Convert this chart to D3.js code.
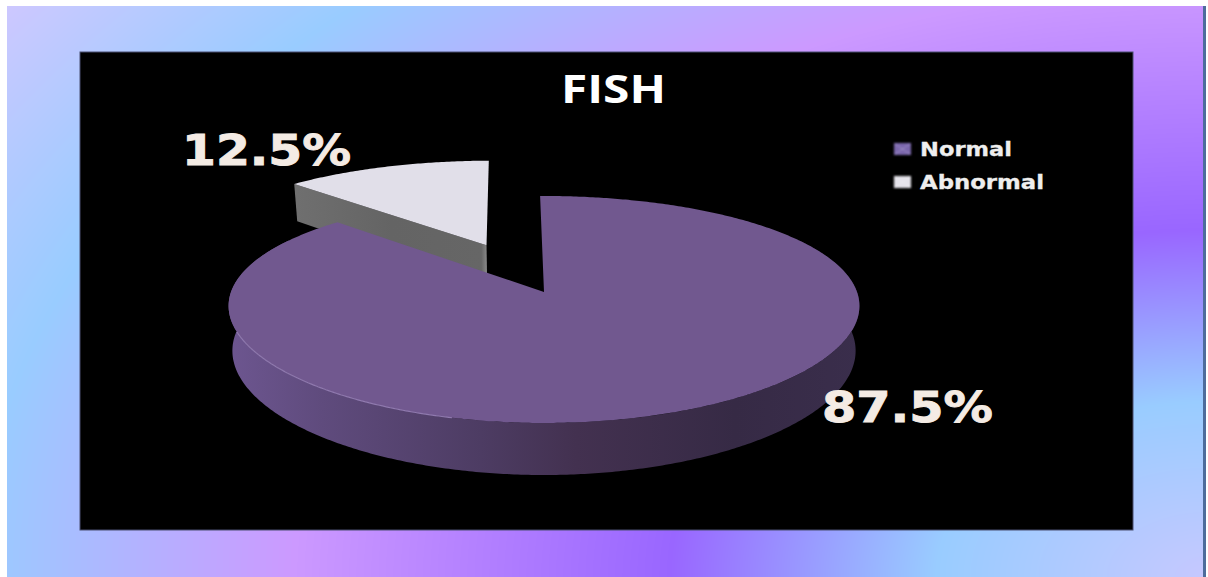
<!DOCTYPE html>
<html>
<head>
<meta charset="utf-8">
<script src="https://cdn.jsdelivr.net/npm/d3@7/dist/d3.min.js"></script>
<style>
  html, body { margin: 0; padding: 0; background: #fff; width: 1208px; height: 577px; overflow: hidden; }
  #bg, #chart { position: absolute; left: 0; top: 0; }
</style>
</head>
<body>
<canvas id="bg" width="1208" height="577"></canvas>
<svg id="chart" width="1208" height="577"></svg>
<script>
// FISH result shares
const categories = ["Normal", "Abnormal"];
const shares = [87.5, 12.5];
const chartTitle = "FISH";

// Slide backdrop: radial colour stops, distance measured from the lower right corner
const backdropStops = [0, 272, 538, 915, 1230, 1492];
const backdropColours = ["#c6c8ff", "#99ccff", "#9966ff", "#cc99ff", "#99ccff", "#cdc8ff"];

const W = 1208, H = 577;
const panel = { x: 7, y: 6, w: 1197, h: 571 };
const plot = { x: 80, y: 52, w: 1053, h: 478 };

// Paint the backdrop
const backdropScale = d3.scaleLinear().domain(backdropStops).range(backdropColours)
  .interpolate(d3.interpolateRgb).clamp(true);
const ctx = document.getElementById("bg").getContext("2d");
for (let py = panel.y; py < panel.y + panel.h; py += 1) {
  for (let px = panel.x; px < panel.x + panel.w; px += 1) {
    ctx.fillStyle = backdropScale(Math.hypot(W - px, 1.55 * (H - py)));
    ctx.fillRect(px, py, 1, 1);
  }
}

const svg = d3.select("#chart");
const defs = svg.append("defs");
defs.append("filter").attr("id", "soft").attr("x", "-20%").attr("y", "-20%").attr("width", "140%").attr("height", "140%")
  .append("feGaussianBlur").attr("stdDeviation", 0.9);

// Right edge of the slide frame
svg.append("rect").attr("x", 1203).attr("y", panel.y).attr("width", 3).attr("height", panel.h)
  .attr("fill", "#4d6c9c");

svg.append("rect").attr("x", plot.x).attr("y", plot.y).attr("width", plot.w).attr("height", plot.h)
  .attr("fill", "#000").attr("stroke", "#4a4f70").attr("stroke-width", 1);

// Tilted disc: perspective projection from pie coordinates to the screen
const apex = { x: 544, y: 292 };
const radiusX = 313, radiusY = 110.8, tilt = 0.154, thickness = 44;
function project(u, v, z) {
  const w = 1 + tilt * v;
  const wx = 1 + 0.8 * tilt * v;
  return [apex.x + radiusX * u * (1 - 0.012 * z) / wx, apex.y - radiusY * v / w + thickness * z / w];
}
function rimPoint(angle, offset, z) {
  return project(offset.u + Math.sin(angle), offset.v + Math.cos(angle), z);
}
function rimAngles(a0, a1) {
  const n = Math.ceil(Math.abs(a1 - a0) / 0.01);
  return d3.range(n + 1).map(i => a0 + (a1 - a0) * i / n);
}
const line = d3.line();

const rotation = -0.014;
const pie = d3.pie().sort(null).startAngle(rotation).endAngle(2 * Math.PI + rotation);
const slices = pie(shares);
const [normal, abnormal] = slices;

// The smaller slice is pulled out along its bisector
const pull = 0.49;
const mid = (abnormal.startAngle + abnormal.endAngle) / 2;
const pulled = { u: pull * Math.sin(mid), v: pull * Math.cos(mid) };
const still = { u: 0, v: 0 };

// Shading of the side walls
const wallGrad = defs.append("linearGradient").attr("id", "wallNormal")
  .attr("gradientUnits", "userSpaceOnUse").attr("x1", 227).attr("x2", 862).attr("y1", 0).attr("y2", 0);
[[0, "#6d5690"], [0.15, "#5f4b7d"], [0.4, "#4d3c63"], [0.55, "#433150"], [0.8, "#362a45"], [1, "#3a2e4c"]]
  .forEach(([o, c]) => wallGrad.append("stop").attr("offset", o).attr("stop-color", c));
const cutGrad = defs.append("linearGradient").attr("id", "wallAbnormal")
  .attr("gradientUnits", "userSpaceOnUse").attr("x1", 297).attr("x2", 487).attr("y1", 0).attr("y2", 0);
[[0, "#6f6f6f"], [0.5, "#646464"], [0.97, "#666"], [1, "#8a8a8a"]]
  .forEach(([o, c]) => cutGrad.append("stop").attr("offset", o).attr("stop-color", c));

// Abnormal slice: cut face, then top
const tipTop = rimPoint(abnormal.startAngle, pulled, 0);
const tipBase = rimPoint(abnormal.startAngle, pulled, 1);
const centreTop = project(pulled.u, pulled.v, 0);
const centreBase = project(pulled.u, pulled.v, 1);
svg.append("path").attr("d", line([tipTop, centreTop, centreBase, tipBase]) + "Z")
  .attr("fill", "url(#wallAbnormal)");
svg.append("path")
  .attr("d", line([centreTop, ...rimAngles(abnormal.startAngle, abnormal.endAngle).map(a => rimPoint(a, pulled, 0))]) + "Z")
  .attr("fill", "#e1dfe9");

// Normal slice: front wall, top, and the highlight along its front rim
const frontFrom = 60 * Math.PI / 180, frontTo = 300 * Math.PI / 180;
const front = rimAngles(frontFrom, frontTo);
svg.append("path")
  .attr("d", line([...front.map(a => rimPoint(a, still, 0)), ...front.slice().reverse().map(a => rimPoint(a, still, 1))]) + "Z")
  .attr("fill", "url(#wallNormal)");
svg.append("path")
  .attr("d", line([project(0, 0, 0), ...rimAngles(normal.startAngle, normal.endAngle).map(a => rimPoint(a, still, 0))]) + "Z")
  .attr("fill", "#71588f");
svg.append("path")
  .attr("d", line(rimAngles(195 * Math.PI / 180, 250 * Math.PI / 180).map(a => rimPoint(a, still, 0))))
  .attr("fill", "none").attr("stroke", "#8f79ae").attr("stroke-width", 1.2);

// Title
svg.append("text").attr("x", 561).attr("y", 103)
  .attr("textLength", 105).attr("lengthAdjust", "spacingAndGlyphs")
  .attr("font-family", "'Open Sans'").attr("font-weight", 700).attr("font-size", 39)
  .attr("fill", "#fff").text(chartTitle);

// Value labels
const labelSpots = [
  { x: 822, y: 422, len: 171 },
  { x: 182, y: 165, len: 169 }
];
svg.selectAll("text.value").data(slices).join("text").attr("class", "value")
  .attr("x", (d, i) => labelSpots[i].x).attr("y", (d, i) => labelSpots[i].y)
  .attr("textLength", (d, i) => labelSpots[i].len).attr("lengthAdjust", "spacingAndGlyphs")
  .attr("font-family", "'DejaVu Sans'").attr("font-weight", 700).attr("font-size", 42)
  .attr("fill", "#f4ebe4").attr("stroke", "#f4ebe4").attr("stroke-width", 0.9)
  .text(d => d3.format(".1f")(d.value) + "%");

// Legend
const legendColour = d3.scaleOrdinal().domain(categories).range(["#7a66ac", "#e4e2ea"]);
const legendY = d3.scalePoint().domain(categories).range([149, 182]);
const legendWidths = [92, 124];
const rows = svg.selectAll("g.legend").data(categories).join("g").attr("class", "legend")
  .attr("transform", d => `translate(894,${legendY(d)})`);
rows.append("rect").attr("x", 0).attr("y", -6).attr("width", 17).attr("height", 12)
  .attr("fill", d => legendColour(d)).attr("filter", "url(#soft)");
rows.append("path").attr("d", "M1,-5L16,5M16,-5L1,5").attr("stroke", "#fff").attr("stroke-opacity", 0.25)
  .attr("filter", "url(#soft)");
rows.append("text").attr("x", 26).attr("y", 6.5)
  .attr("textLength", (d, i) => legendWidths[i]).attr("lengthAdjust", "spacingAndGlyphs")
  .attr("font-family", "'DejaVu Sans'").attr("font-weight", 700).attr("font-size", 19)
  .attr("fill", "#eeeeee").attr("stroke", "#eeeeee").attr("stroke-width", 0.3).text(d => d);
</script>
</body>
</html>
